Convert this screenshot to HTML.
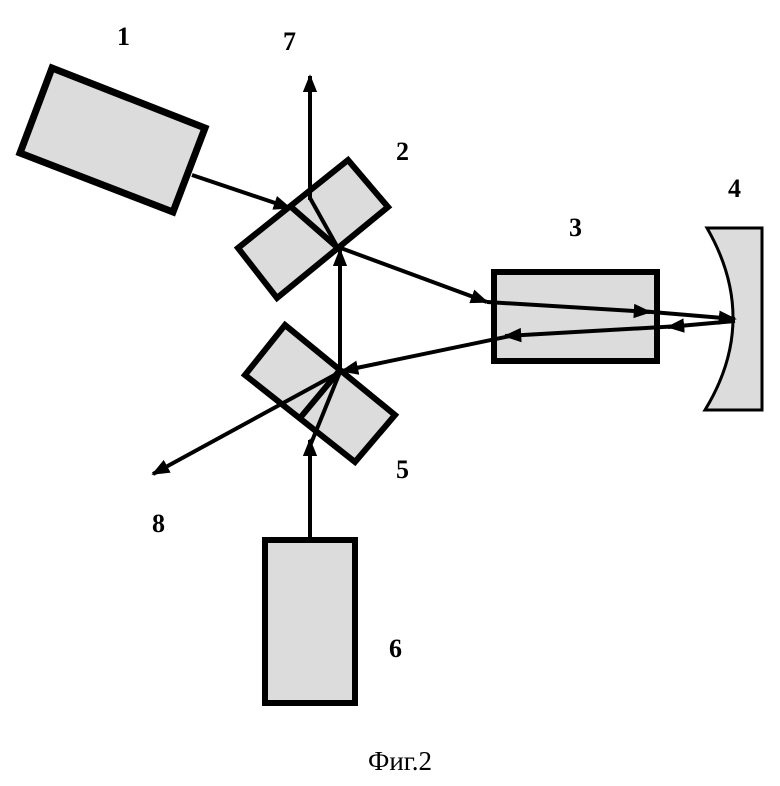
<!DOCTYPE html>
<html><head><meta charset="utf-8"><style>
html,body{margin:0;padding:0;background:#fff;width:780px;height:786px;overflow:hidden}
svg{display:block}
text{font-family:"Liberation Serif",serif;font-weight:bold;font-size:26px;fill:#000}
</style></head><body>
<svg width="780" height="786" viewBox="0 0 780 786" xmlns="http://www.w3.org/2000/svg">
<defs>
<marker id="a" viewBox="0 0 10 10" refX="9" refY="5" markerWidth="4.5" markerHeight="4.5" markerUnits="strokeWidth" orient="auto">
<path d="M0,1 L10,5 L0,9 Z" fill="#000"/></marker>
</defs>
<g stroke="#000" stroke-linejoin="miter">
<polygon points="52,68 205,128 173,212 20,153" fill="#dcdcdc" stroke-width="7"/>
<polygon points="348,160 388,207 277,298 238,248" fill="#dcdcdc" stroke-width="6"/>
<line x1="290" y1="206" x2="338" y2="248" stroke-width="6"/>
<polygon points="285,325 395,415 355,462 245,375" fill="#dcdcdc" stroke-width="6"/>
<line x1="340" y1="370" x2="300" y2="418" stroke-width="6"/>
<rect x="494" y="272" width="163" height="89" fill="#dcdcdc" stroke-width="6"/>
<rect x="265" y="540" width="90" height="163" fill="#dcdcdc" stroke-width="6"/>
<path d="M707,228 L762,228 L762,410 L705,410 Q760,320 707,228 Z" fill="#dcdcdc" stroke-width="3"/>
</g>
<g stroke="#000" stroke-width="4" fill="none">
<line x1="192" y1="175" x2="290" y2="208" marker-end="url(#a)"/>
<line x1="310" y1="200" x2="310" y2="76" marker-end="url(#a)"/>
<line x1="310" y1="198" x2="338" y2="248"/>
<line x1="338" y1="247" x2="487" y2="302" marker-end="url(#a)"/>
<line x1="340" y1="372" x2="340" y2="250" marker-end="url(#a)"/>
<line x1="310" y1="538" x2="310" y2="440" marker-end="url(#a)"/>
<line x1="310" y1="446" x2="340" y2="372"/>
<line x1="340" y1="372" x2="153" y2="474" marker-end="url(#a)"/>
<line x1="487" y1="302" x2="650" y2="312" marker-end="url(#a)"/>
<line x1="640" y1="311" x2="735" y2="319" marker-end="url(#a)"/>
<line x1="735" y1="321" x2="668" y2="327" marker-end="url(#a)"/>
<line x1="680" y1="326" x2="505" y2="336" marker-end="url(#a)"/>
<line x1="515" y1="335" x2="342" y2="371" marker-end="url(#a)"/>
</g>
<text x="117" y="45">1</text>
<text x="283" y="50">7</text>
<text x="396" y="160">2</text>
<text x="569" y="236">3</text>
<text x="728" y="197">4</text>
<text x="396" y="478">5</text>
<text x="152" y="532">8</text>
<text x="389" y="657">6</text>
<text x="368" y="770" style="font-weight:normal;font-size:27px">Фиг.2</text>
</svg>
</body></html>
